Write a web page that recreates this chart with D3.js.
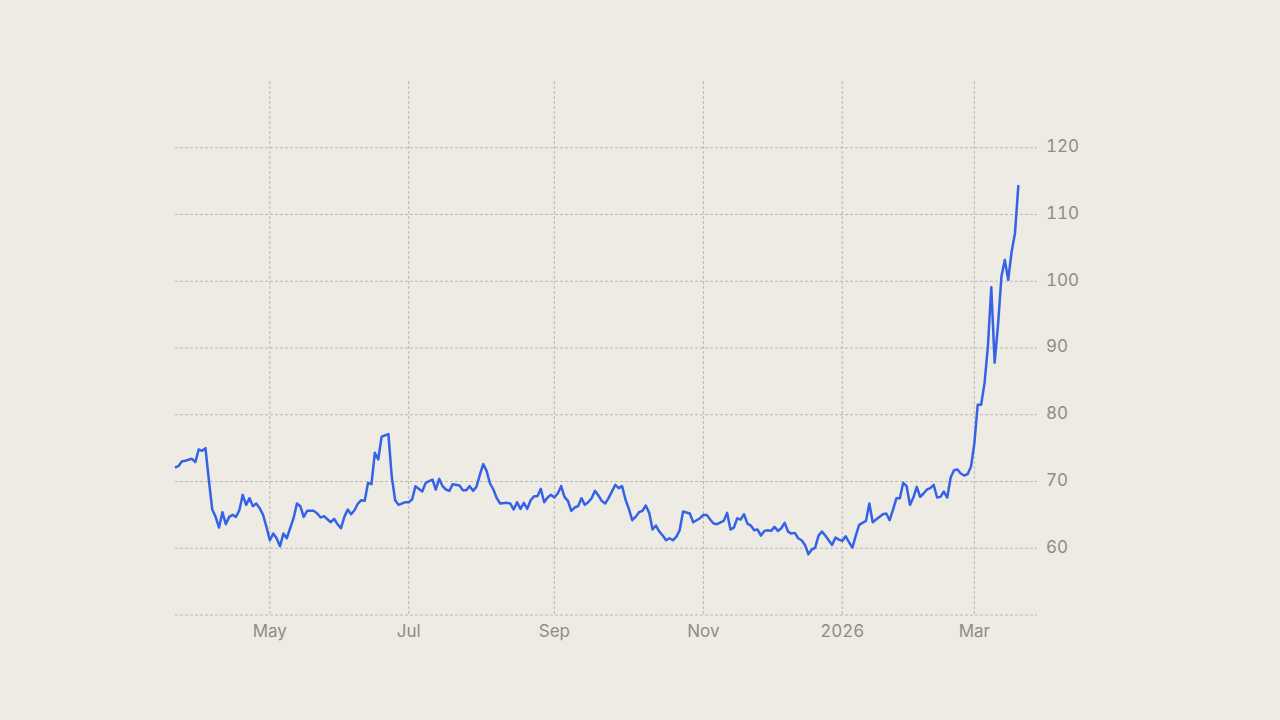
<!DOCTYPE html>
<html>
<head>
<meta charset="utf-8">
<script src="https://cdn.jsdelivr.net/npm/d3@7"></script>
<style>
  html, body { margin: 0; padding: 0; background: #eeebe4; }
  svg { display: block; font-family: Inter, "Noto Sans", sans-serif; font-variant-numeric: tabular-nums; }
</style>
</head>
<body>
<script>
// closing values, one per trading day (some days skipped)
var dates = [
  "2025-03-21","2025-03-24","2025-03-25","2025-03-26","2025-03-28","2025-03-31",
  "2025-04-01","2025-04-02","2025-04-03","2025-04-04","2025-04-07","2025-04-08","2025-04-09","2025-04-10","2025-04-11",
  "2025-04-14","2025-04-15","2025-04-16","2025-04-17","2025-04-21","2025-04-22","2025-04-23","2025-04-24","2025-04-25",
  "2025-04-28","2025-04-29","2025-04-30",
  "2025-05-01","2025-05-02","2025-05-05","2025-05-06","2025-05-07","2025-05-08","2025-05-09","2025-05-12","2025-05-13",
  "2025-05-14","2025-05-15","2025-05-16","2025-05-20","2025-05-21","2025-05-22","2025-05-23","2025-05-28","2025-05-29","2025-05-30",
  "2025-06-02","2025-06-03","2025-06-04","2025-06-05","2025-06-06","2025-06-09","2025-06-10","2025-06-11","2025-06-12",
  "2025-06-13","2025-06-16","2025-06-17","2025-06-18","2025-06-20","2025-06-23","2025-06-24","2025-06-25","2025-06-26","2025-06-30",
  "2025-07-01","2025-07-02","2025-07-03","2025-07-08","2025-07-09","2025-07-11","2025-07-14","2025-07-15","2025-07-16",
  "2025-07-17","2025-07-18","2025-07-21","2025-07-23","2025-07-24","2025-07-25","2025-07-28","2025-07-29","2025-07-30","2025-07-31",
  "2025-08-01","2025-08-04","2025-08-05","2025-08-06","2025-08-07","2025-08-08","2025-08-12","2025-08-13","2025-08-14",
  "2025-08-15","2025-08-18","2025-08-19","2025-08-20","2025-08-21","2025-08-22","2025-08-25","2025-08-26","2025-08-27",
  "2025-08-28","2025-08-29",
  "2025-09-02","2025-09-03","2025-09-04","2025-09-05","2025-09-08","2025-09-09","2025-09-10","2025-09-11","2025-09-12",
  "2025-09-15","2025-09-16","2025-09-17","2025-09-18","2025-09-19","2025-09-22","2025-09-23","2025-09-24","2025-09-26",
  "2025-09-29","2025-09-30",
  "2025-10-01","2025-10-02","2025-10-03","2025-10-06","2025-10-07","2025-10-08","2025-10-09","2025-10-10","2025-10-13",
  "2025-10-14","2025-10-15","2025-10-16","2025-10-17","2025-10-20","2025-10-21","2025-10-22","2025-10-23","2025-10-24",
  "2025-10-28","2025-10-29","2025-10-31",
  "2025-11-03","2025-11-04","2025-11-05","2025-11-06","2025-11-07","2025-11-11","2025-11-12","2025-11-13","2025-11-14",
  "2025-11-17","2025-11-18","2025-11-19","2025-11-20","2025-11-21","2025-11-24","2025-11-25","2025-11-26","2025-11-28",
  "2025-12-01","2025-12-02","2025-12-03","2025-12-04","2025-12-05","2025-12-08","2025-12-09","2025-12-10","2025-12-11",
  "2025-12-12","2025-12-15","2025-12-16","2025-12-17","2025-12-18","2025-12-19","2025-12-22","2025-12-23","2025-12-24",
  "2025-12-29","2025-12-30","2025-12-31",
  "2026-01-02","2026-01-05","2026-01-06","2026-01-07","2026-01-08","2026-01-09","2026-01-13","2026-01-14","2026-01-15",
  "2026-01-16","2026-01-21","2026-01-22","2026-01-23","2026-01-26","2026-01-27","2026-01-28","2026-01-29","2026-01-30",
  "2026-02-02","2026-02-03","2026-02-04","2026-02-05","2026-02-06","2026-02-09","2026-02-10","2026-02-11","2026-02-12",
  "2026-02-13","2026-02-17","2026-02-18","2026-02-19","2026-02-20","2026-02-23","2026-02-24","2026-02-25","2026-02-26",
  "2026-02-27",
  "2026-03-02","2026-03-03","2026-03-04","2026-03-05","2026-03-06","2026-03-09","2026-03-10","2026-03-11","2026-03-12",
  "2026-03-13","2026-03-16","2026-03-17","2026-03-18","2026-03-19"
];
var values = [
  72.1,72.3,73.0,73.1,73.4,72.9,
  74.8,74.6,75.0,70.2,65.8,64.7,63.1,65.4,63.6,
  64.7,65.0,64.7,65.7,68.0,66.5,67.5,66.3,66.7,
  66.0,65.0,63.2,
  61.2,62.2,61.5,60.3,62.2,61.5,63.0,64.5,66.7,
  66.3,64.7,65.6,65.6,65.2,64.6,64.8,63.9,64.4,63.6,
  63.0,64.7,65.8,65.1,65.7,66.7,67.2,67.1,69.8,
  69.6,74.3,73.3,76.7,76.9,77.1,70.7,67.2,66.5,66.9,
  66.9,67.3,69.3,68.5,69.8,70.3,68.8,70.4,69.3,
  68.8,68.6,69.6,69.4,68.7,68.7,69.3,68.6,69.2,71.0,
  72.6,71.6,69.7,68.8,67.5,66.7,66.8,66.7,65.8,
  66.9,65.9,66.8,65.9,67.2,67.8,67.8,68.9,66.9,
  67.6,68.0,
  67.6,68.2,69.3,67.7,67.1,65.6,66.1,66.3,67.5,
  66.5,66.9,67.5,68.6,67.9,67.1,66.7,67.5,69.5,
  69.0,69.3,
  67.3,65.9,64.2,64.7,65.4,65.6,66.4,65.3,62.8,
  63.4,62.5,61.9,61.2,61.5,61.2,61.7,62.7,65.5,
  65.2,63.9,64.5,
  65.0,65.0,64.3,63.7,63.6,64.1,65.3,62.8,63.1,
  64.5,64.3,65.1,63.7,63.4,62.7,62.8,61.9,62.6,
  62.7,62.6,63.2,62.6,63.0,63.8,62.5,62.2,62.3,
  61.5,61.2,60.5,59.1,59.8,60.1,61.9,62.5,61.9,
  60.5,61.6,61.3,
  61.1,61.8,60.9,60.1,61.9,63.5,64.1,66.7,63.9,
  64.3,65.1,65.2,64.2,65.8,67.5,67.5,69.8,69.3,
  66.5,67.6,69.2,67.7,68.2,68.8,69.0,69.5,67.6,
  67.7,68.5,67.6,70.6,71.7,71.8,71.2,70.9,71.1,
  72.2,
  75.7,81.5,81.5,84.7,90.2,99.1,87.8,93.5,100.7,
  103.2,100.2,104.4,107.2,114.4
];

// market holidays in the window: the x axis counts trading days only
var holidays = [
  "2025-04-18","2025-05-26","2025-06-19","2025-07-04","2025-09-01","2025-11-27",
  "2025-12-25","2026-01-01","2026-01-19","2026-02-16"
];

// x ticks (first trading day on/after these dates) and their labels
var tickMonths = ["2025-05-01","2025-07-01","2025-09-01","2025-11-01","2026-01-01","2026-03-01"];
var tickLabels = ["May","Jul","Sep","Nov","2026","Mar"];
var yTicks = [50,60,70,80,90,100,110,120];
var yDomain = [50,130];

// set the dimensions and margins of the graph
var margin = {top: 81, right: 243, bottom: 105, left: 175},
    width = 1280 - margin.left - margin.right,
    height = 720 - margin.top - margin.bottom;

var parseDay = d3.timeParse("%Y-%m-%d");
var fmtDay = d3.timeFormat("%Y-%m-%d");

// trading day calendar, from first point to two weeks past the last
var calStart = parseDay(dates[0]);
var calEnd = d3.timeDay.offset(parseDay(dates[dates.length - 1]), 14);
var tradingDays = d3.timeDay.range(calStart, calEnd).filter(function(d) {
  return d.getDay() % 6 !== 0 && holidays.indexOf(fmtDay(d)) < 0;
});
var dayIndex = {};
tradingDays.forEach(function(d, i) { dayIndex[fmtDay(d)] = i; });

function tradingIndex(s) {
  var d = parseDay(s);
  while (dayIndex[fmtDay(d)] === undefined) d = d3.timeDay.offset(d, 1);
  return dayIndex[fmtDay(d)];
}

var data = dates.map(function(s, i) {
  return {idx: tradingIndex(s), value: values[i]};
});

// set the ranges
var lastIdx = data[data.length - 1].idx;
var x = d3.scaleLinear().domain([0, lastIdx + 5.5]).range([0, width]);
var y = d3.scaleLinear().domain(yDomain).range([height, 0]);

var svg = d3.select("body").append("svg")
    .attr("width", 1280)
    .attr("height", 720)
  .append("g")
    .attr("transform", "translate(" + margin.left + "," + margin.top + ")");

var gridColor = "#bab7b0";
var textColor = "#8e8c87";

// horizontal grid + right-hand labels
svg.append("g")
  .selectAll("line")
  .data(yTicks)
  .enter().append("line")
    .attr("x1", 0)
    .attr("x2", width)
    .attr("y1", function(d) { return y(d); })
    .attr("y2", function(d) { return y(d); })
    .attr("stroke", gridColor)
    .attr("stroke-width", 1)
    .attr("stroke-dasharray", "3,2");

svg.append("g")
  .selectAll("text")
  .data(yTicks.filter(function(d) { return d > yDomain[0]; }))
  .enter().append("text")
    .attr("x", width + 9)
    .attr("y", function(d) { return y(d); })
    .attr("dy", "0.25em")
    .attr("fill", textColor)
    .style("font-size", "17px")
    .text(function(d) { return d; });

// vertical month grid + labels
var xTicks = tickMonths.map(function(s) { return tradingIndex(s); });

svg.append("g")
  .selectAll("line")
  .data(xTicks)
  .enter().append("line")
    .attr("x1", function(d) { return x(d); })
    .attr("x2", function(d) { return x(d); })
    .attr("y1", 0)
    .attr("y2", height)
    .attr("stroke", gridColor)
    .attr("stroke-width", 1)
    .attr("stroke-dasharray", "3,2");

svg.append("g")
  .selectAll("text")
  .data(xTicks)
  .enter().append("text")
    .attr("x", function(d) { return x(d); })
    .attr("y", height + 22)
    .attr("text-anchor", "middle")
    .attr("fill", textColor)
    .style("font-size", "17px")
    .text(function(d, i) { return tickLabels[i]; });

// the line
var valueLine = d3.line()
  .x(function(d) { return x(d.idx); })
  .y(function(d) { return y(d.value); });

svg.append("path")
  .datum(data)
  .attr("fill", "none")
  .attr("stroke", "#3462e8")
  .attr("stroke-width", 2.5)
  .attr("stroke-linejoin", "round")
  .attr("d", valueLine);
</script>
</body>
</html>
